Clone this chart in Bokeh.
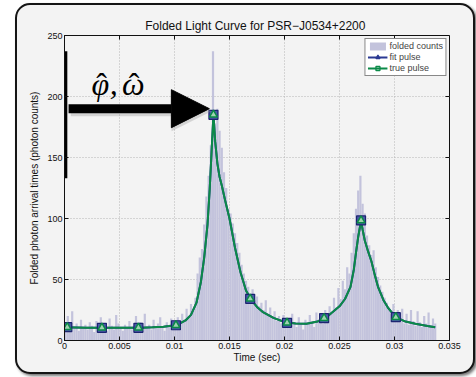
from bokeh.plotting import figure
from bokeh.models import (ColumnDataSource, FixedTicker, Legend, LegendItem,
                          Arrow, NormalHead, Label, Range1d)
from bokeh.embed import file_html
from bokeh.resources import INLINE

# ---------------- data ----------------
title_text = "Folded Light Curve for  PSR\u2212J0534+2200"
x_label = "Time (sec)"
y_label = "Folded photon arrival times (photon counts)"
xticks = [0, 0.005, 0.01, 0.015, 0.02, 0.025, 0.03, 0.035]
xtick_labels = ["0", "0.005", "0.01", "0.015", "0.02", "0.025", "0.03", "0.035"]
yticks = [0, 50, 100, 150, 200, 250]
ytick_labels = ["0", "50", "100", "150", "200", "250"]
x_min, x_max = 0, 0.035
y_min, y_max = 0, 250

bin_width = 0.0002
bin_counts = [
    12, 20, 9, 24, 11, 14, 8, 17, 10, 13, 9, 15, 12, 7, 16, 11, 19, 10, 13, 8,
    18, 12, 9, 21, 14, 10, 8, 13, 11, 16, 9, 12, 20, 10, 15, 8, 22, 11, 13, 9,
    17, 10, 14, 19, 11, 8, 15, 12, 18, 13,
    14, 19, 13, 22, 17, 26, 20, 30, 24, 35,
    55, 68, 75, 95, 118, 135, 160, 237,
    178, 190, 172, 158, 138, 125, 108, 104, 96, 88, 80, 72, 62, 55, 49, 44, 38, 42,
    33, 36, 28, 31, 25, 33, 22, 27, 19, 24, 16, 20, 14, 21, 13, 18, 12, 22, 15, 11,
    19, 14, 9, 17, 13, 21, 15, 11, 23, 16, 20, 14, 25, 19, 28, 22, 35, 27, 43, 34,
    49, 42, 60, 55, 72, 88, 108, 123, 135, 112, 104, 86, 78, 70, 74, 60, 52, 45,
    40, 35, 31, 27, 22, 30, 18, 25, 17, 26, 14, 22, 13, 25, 16, 12, 24, 15, 11, 20,
    14, 23, 12, 18, 14,
]

curve_t = [0.0000, 0.0010, 0.0020, 0.0030, 0.0040, 0.0050, 0.0060, 0.0070, 0.0080,
           0.0090, 0.0095, 0.0100, 0.0105, 0.0110, 0.0115, 0.0120, 0.0124, 0.0127,
           0.0130, 0.0132, 0.0134, 0.01354, 0.0137, 0.0139, 0.0141, 0.0143, 0.0146,
           0.0150, 0.0155, 0.0160, 0.0165, 0.0170, 0.0175, 0.0180, 0.0190, 0.0200,
           0.0210, 0.0220, 0.0230, 0.0240, 0.0250, 0.0255, 0.0260, 0.0263, 0.0265,
           0.0267, 0.02696, 0.0271, 0.0273, 0.0276, 0.0279, 0.0282, 0.0285, 0.0290,
           0.0294, 0.0301, 0.0310, 0.0319, 0.0330, 0.0337]
curve_v = [10.9, 10.7, 10.5, 10.4, 10.4, 10.4, 10.4, 10.5, 10.8,
           11.3, 11.8, 12.4, 14.0, 16.4, 21.0, 31.0, 48.0, 68.0,
           95.0, 124.0, 160.0, 185.0, 163.0, 145.0, 134.0, 127.0, 115.0,
           100.0, 76.0, 56.0, 41.0, 33.0, 27.5, 23.5, 18.5, 15.2,
           14.0, 13.8, 15.5, 20.5, 28.0, 34.0, 44.0, 58.0, 72.0,
           85.0, 98.0, 91.0, 82.0, 73.0, 65.0, 54.0, 44.0, 33.0,
           27.0, 19.1, 15.5, 13.7, 11.8, 10.9]

marker_t = [0.00025, 0.0034, 0.00672, 0.01013, 0.01354, 0.01688, 0.02023, 0.0236, 0.02696, 0.03012]
marker_v = [10.9, 10.4, 10.4, 12.5, 185.0, 34.2, 14.5, 18.3, 98.4, 19.1]

# annotation positions (data units)
arrow_x0, arrow_x1, arrow_y = 0.00037, 0.01317, 190.0
sym_text = ["\u03c6", ",", "\u03c9"]
sym_x = [0.00325, 0.00448, 0.00626]
sym_y = 210.5
hat_x = [0.00336, 0.00632]
bar_x, bar_y0, bar_y1 = 0.00012, 133.0, 237.0

FONT = "Liberation Sans"
BG = "#f3f3f3"
W, H = 460, 371
MB_L, MB_R, MB_T, MB_B = 47, 28, 30, 36
BORDER = 2
TICK_PX = 4
frame_w = W - 2 * BORDER - MB_L - MB_R
frame_h = H - 2 * BORDER - MB_T - MB_B

# ---------------- figure ----------------
p = figure(width=W, height=H, output_backend="svg", toolbar_location=None,
           x_range=Range1d(x_min, x_max), y_range=Range1d(y_min, y_max),
           min_border_left=MB_L, min_border_right=MB_R, min_border_top=MB_T, min_border_bottom=MB_B,
           background_fill_color=BG, border_fill_color=None)
p.styles = {"border": f"{BORDER}px solid #151515", "border-radius": "15px",
            "box-shadow": "2px 2px 3px rgba(0,0,0,0.55)", "background-color": BG,
            "position": "relative", "left": "15px", "top": "3px", "overflow": "hidden"}

p.title.text = title_text
p.title.text_font = FONT
p.title.text_font_size = "12px"
p.title.text_font_style = "normal"
p.title.text_color = "#111111"
p.title.align = "center"
p.title.standoff = 6

p.outline_line_color = "#111111"
p.outline_line_width = 1

for ax in (p.xaxis[0], p.yaxis[0]):
    ax.major_tick_in = TICK_PX
    ax.major_tick_out = 0
    ax.minor_tick_line_color = None
    ax.major_label_text_font = FONT
    ax.major_label_text_font_size = "9px"
    ax.major_label_text_color = "#111111"
    ax.axis_label_text_font = FONT
    ax.axis_label_text_font_size = "10px"
    ax.axis_label_text_font_style = "normal"
    ax.axis_label_text_color = "#111111"
    ax.axis_line_color = "#111111"
    ax.major_tick_line_color = "#111111"

p.xaxis[0].ticker = FixedTicker(ticks=xticks)
p.xaxis[0].major_label_overrides = dict(zip(xticks, xtick_labels))
p.xaxis[0].axis_label = x_label
p.xaxis[0].major_label_standoff = 2
p.xaxis[0].axis_label_standoff = 0
p.yaxis[0].ticker = FixedTicker(ticks=yticks)
p.yaxis[0].major_label_overrides = dict(zip(yticks, ytick_labels))
p.yaxis[0].axis_label = y_label
p.yaxis[0].major_label_standoff = 2
p.yaxis[0].axis_label_standoff = 4

p.grid.grid_line_color = "#b4b4b4"
p.grid.grid_line_dash = "1 2"
p.xgrid.ticker = FixedTicker(ticks=xticks)
p.ygrid.ticker = FixedTicker(ticks=yticks)

# histogram
lefts = [i * bin_width for i in range(len(bin_counts))]
rights = [l + bin_width for l in lefts]
hist_src = ColumnDataSource(dict(left=lefts, right=rights, top=bin_counts,
                                 bottom=[0] * len(bin_counts)))
r_hist = p.quad(left="left", right="right", top="top", bottom="bottom", source=hist_src,
                fill_color="#c3c3dc", line_color=None)

# curves
curve_src = ColumnDataSource(dict(t=curve_t, v=curve_v))
r_fit_line = p.line("t", "v", source=curve_src, line_color="#2b3a93", line_width=2)
r_true_line = p.line("t", "v", source=curve_src, line_color="#0b8a48", line_width=2)

mk_src = ColumnDataSource(dict(t=marker_t, v=marker_v))
p.scatter("t", "v", source=mk_src, marker="square", size=9,
          fill_color="#4a58a8", line_color="#1c2470", line_width=1.2)
p.scatter("t", "v", source=mk_src, marker="triangle", size=8,
          fill_color="#9fd3b0", line_color="#0b8a48", line_width=1.5)

# tick marks on the top and right sides of the box (inward, like the bottom/left ones)
dy = TICK_PX * (y_max - y_min) / frame_h
dx = TICK_PX * (x_max - x_min) / frame_w
p.segment(x0=xticks, y0=[y_max] * len(xticks), x1=xticks, y1=[y_max - dy] * len(xticks),
          line_color="#111111", line_width=1)
p.segment(x0=[x_max] * len(yticks), y0=yticks, x1=[x_max - dx] * len(yticks), y1=yticks,
          line_color="#111111", line_width=1)

# legend-only glyphs (NaN point: nothing drawn in the plot)
nan_src = ColumnDataSource(dict(t=[float("nan")], v=[float("nan")]))
r_leg_tri = p.scatter("t", "v", source=nan_src, marker="triangle", size=8,
                      fill_color=None, line_color="#2b3a93", line_width=1.3)
r_leg_sq = p.scatter("t", "v", source=nan_src, marker="square", size=6,
                     fill_color=None, line_color="#0b8a48", line_width=1.3)

legend = Legend(items=[
    LegendItem(label="folded counts", renderers=[r_hist]),
    LegendItem(label="fit pulse", renderers=[r_fit_line, r_leg_tri]),
    LegendItem(label="true pulse", renderers=[r_true_line, r_leg_sq]),
], location="top_right")
legend.label_text_font = FONT
legend.label_text_font_size = "9px"
legend.label_height = 10
legend.glyph_height = 10
legend.glyph_width = 20
legend.label_standoff = 2
legend.spacing = 1
legend.padding = 2
legend.margin = 3
legend.border_line_color = "#111111"
legend.border_line_width = 1
legend.background_fill_color = "white"
legend.background_fill_alpha = 1
p.add_layout(legend)

# thick bar on the left axis
p.segment(x0=[bar_x], y0=[bar_y0], x1=[bar_x], y1=[bar_y1], line_color="black", line_width=3)

# arrow with soft shadow
p.add_layout(Arrow(x_start=arrow_x0 + 0.0002, y_start=arrow_y - 2, x_end=arrow_x1 + 0.0002, y_end=arrow_y - 2,
                   line_width=10, line_color="#999999", line_alpha=0.35,
                   end=NormalHead(size=40, fill_color="#999999", fill_alpha=0.35, line_color=None)))
p.add_layout(Arrow(x_start=arrow_x0, y_start=arrow_y, x_end=arrow_x1, y_end=arrow_y,
                   line_width=9, line_color="black",
                   end=NormalHead(size=38, fill_color="black", line_color="black")))

# phi-hat, omega-hat annotation
for t, x in zip(sym_text, sym_x):
    p.add_layout(Label(x=x, y=sym_y, text=t, text_font="Liberation Serif",
                       text_font_style="italic", text_font_size="32px", text_color="black",
                       text_align="center", text_baseline="alphabetic"))
for x in hat_x:
    p.add_layout(Label(x=x, y=sym_y, text="\u02c6", text_font="Liberation Serif",
                       text_font_size="32px", text_color="black",
                       text_align="center", text_baseline="alphabetic"))

open("out.html", "w").write(file_html(p, INLINE))
